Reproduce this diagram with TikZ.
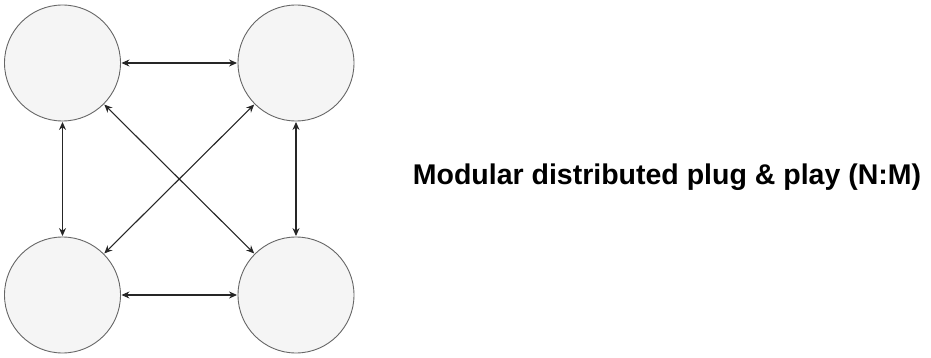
\documentclass[tikz,border=0pt]{standalone}
\usepackage{fontspec}
\setmainfont{Liberation Sans}
\usetikzlibrary{arrows.meta}
\begin{document}
\begin{tikzpicture}[x=1pt,y=-1pt,
  peer/.style={circle, draw=black!60, fill=black!4, line width=0.9pt, minimum size=116pt, inner sep=0pt},
  link/.style={{Stealth[length=8pt,width=7pt]}-{Stealth[length=8pt,width=7pt]}, line width=1.1pt, black!85, shorten <=0.5pt, shorten >=0.5pt}]
  \useasboundingbox (0,0) rectangle (931,358);
  \node[peer] (tl) at (62.5,63) {};
  \node[peer] (tr) at (296,63) {};
  \node[peer] (bl) at (62.5,295) {};
  \node[peer] (br) at (296,295) {};
  \draw[link] (tl) -- (tr);
  \draw[link] (bl) -- (br);
  \draw[link] (tl) -- (bl);
  \draw[link] (tr) -- (br);
  \draw[link] (tl) -- (br);
  \draw[link] (tr) -- (bl);
  \node[font=\bfseries\fontsize{28.5}{34}\selectfont, anchor=base, inner sep=0pt] (title) at (667,185) {Modular distributed plug \& play (N:M)};
\end{tikzpicture}
\end{document}
